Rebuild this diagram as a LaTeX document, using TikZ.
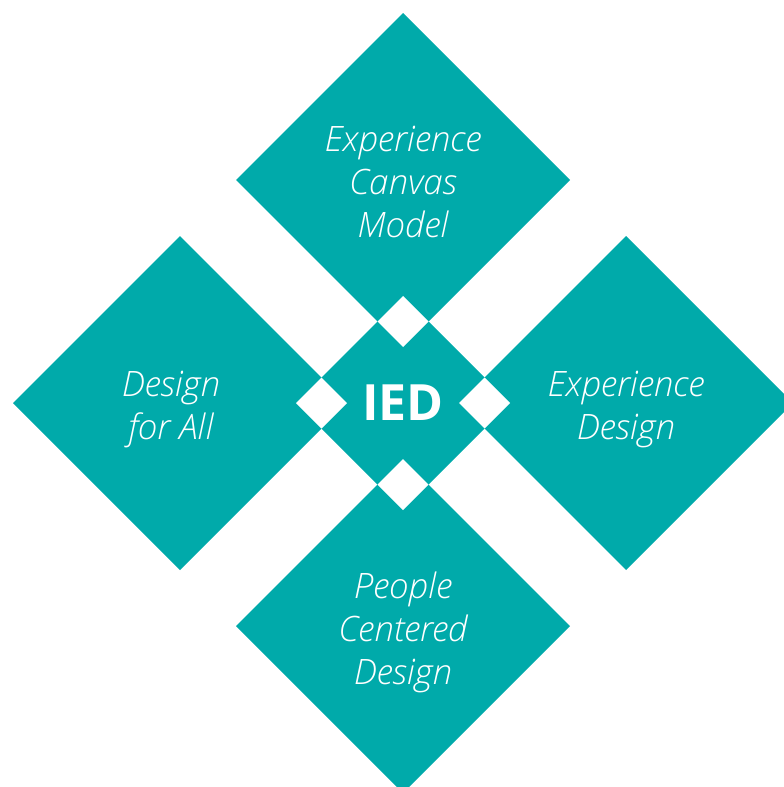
\documentclass[tikz,border=0pt]{standalone}
\usepackage{fontspec}
\setmainfont{Open Sans}
\newfontfamily\lightfont{Open Sans}[UprightFont={* Light},ItalicFont={* Light Italic}]
\usetikzlibrary{shapes.geometric,calc}

\definecolor{iedteal}{RGB}{0,170,170}

\tikzset{
    bigtile/.style={diamond, fill=iedteal, inner sep=0pt, outer sep=0pt,
        minimum width=334pt, minimum height=334pt},
    tilelabel/.style={text=white, align=center,
        font=\lightfont\itshape\fontsize{35}{43}\selectfont},
    coretile/.style={diamond, fill=iedteal, text=white, inner sep=0pt, outer sep=0pt,
        minimum width=214pt, minimum height=214pt,
        font=\bfseries\fontsize{50}{50}\selectfont},
    gap/.style={diamond, fill=white, inner sep=0pt, outer sep=0pt,
        minimum width=51pt, minimum height=51pt}
}

\begin{document}
\begin{tikzpicture}[x=1pt,y=-1pt]
    \useasboundingbox (0,0) rectangle (784,787);
    \clip (0,0) rectangle (784,787);

    \node[bigtile] (ecm) at (403,180) {};
    \node[bigtile] (dfa) at (180,403) {};
    \node[bigtile] (exd) at (626,403) {};
    \node[bigtile] (pcd) at (403,626) {};
    \node[coretile] (ied) at (403,403) {IED};

    % white where the tiles overlap
    \node[gap] (gapN) at ($(ied.north)!0.5!(ecm.south)$) {};
    \node[gap] (gapW) at ($(ied.west)!0.5!(dfa.east)$) {};
    \node[gap] (gapE) at ($(ied.east)!0.5!(exd.west)$) {};
    \node[gap] (gapS) at ($(ied.south)!0.5!(pcd.north)$) {};

    \node[tilelabel, yshift=-2pt] (ecmtext) at (ecm) {Experience\\Canvas\\Model};
    \node[tilelabel, xshift=-9pt, yshift=-6pt] (dfatext) at (dfa) {Design\\for All};
    \node[tilelabel, yshift=-6pt] (exdtext) at (exd) {Experience\\Design};
    \node[tilelabel, yshift=-6pt] (pcdtext) at (pcd) {People\\Centered\\Design};
\end{tikzpicture}
\end{document}
